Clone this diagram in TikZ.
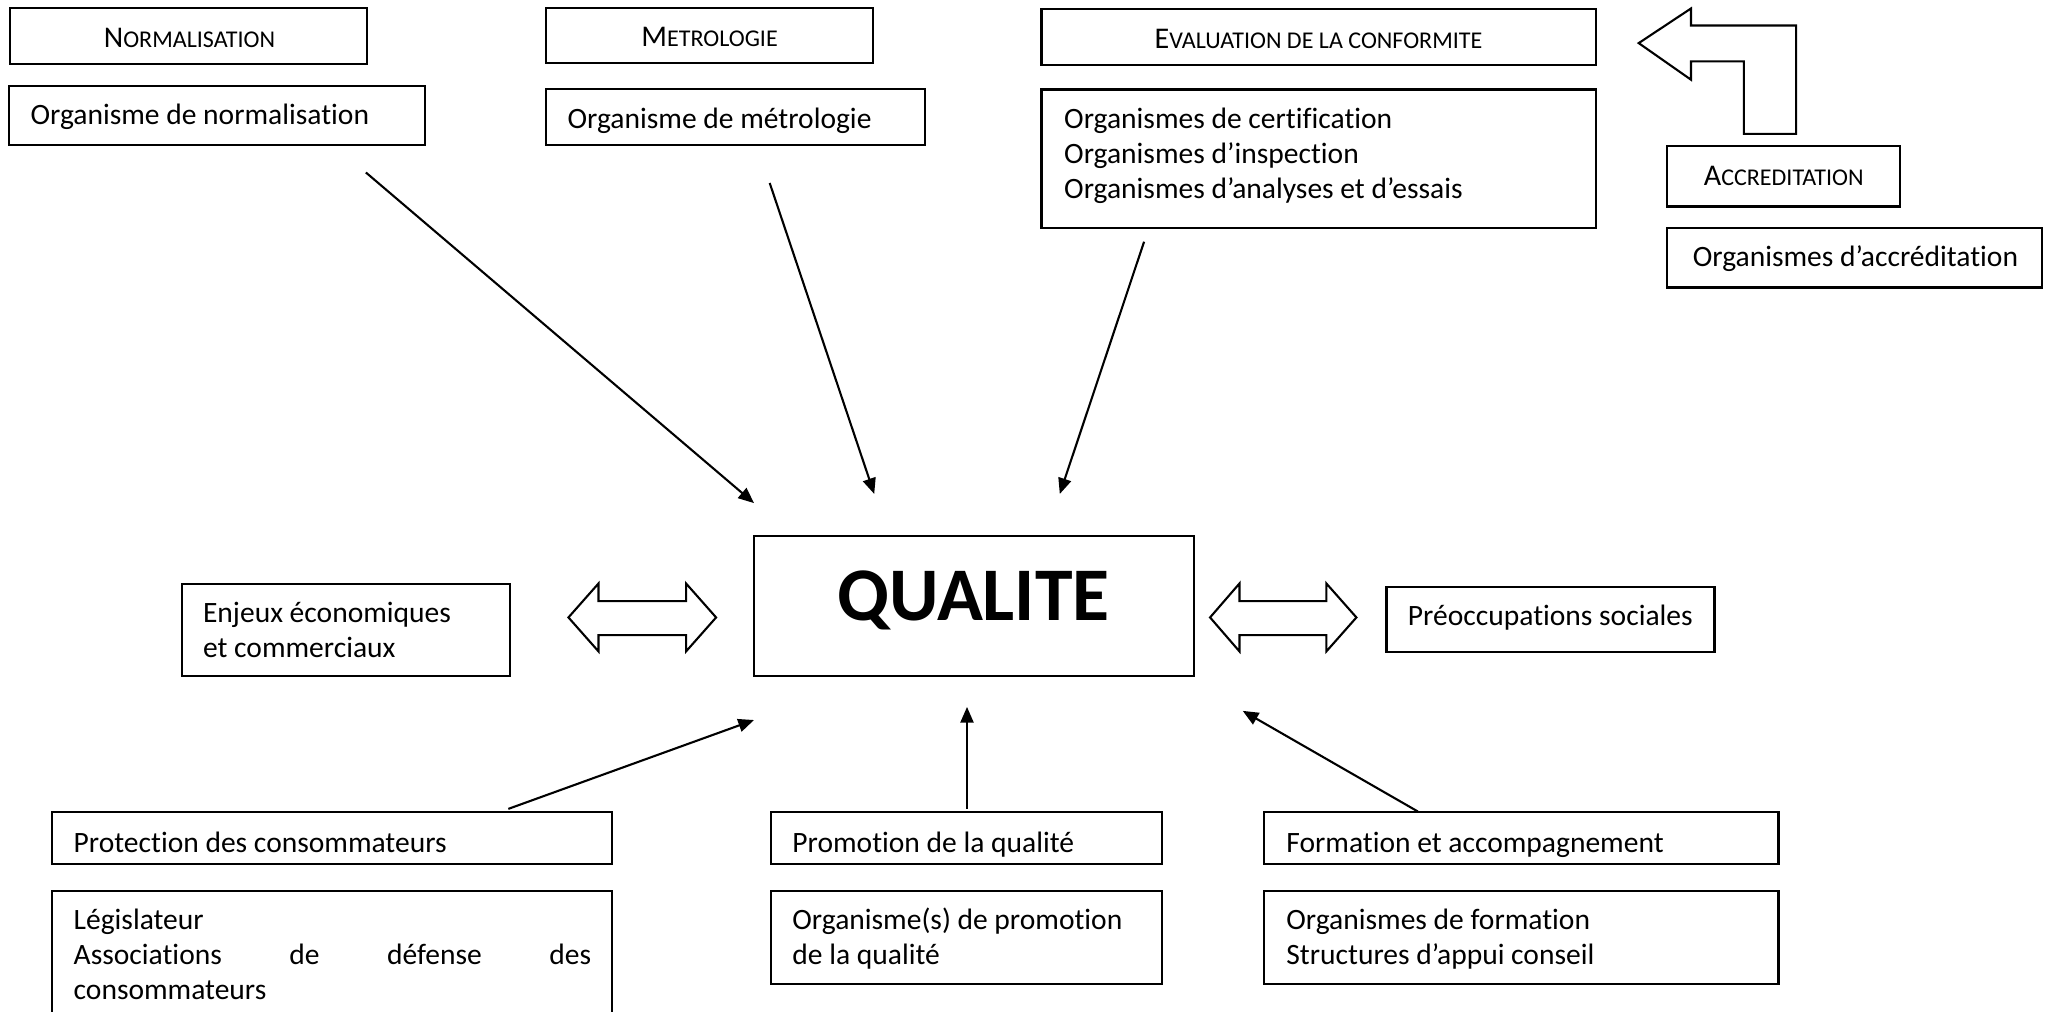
\documentclass[tikz,border=0pt]{standalone}
\usepackage{fontspec}
\setmainfont{Carlito}[Ligatures={NoCommon}]
\usetikzlibrary{fit,arrows.meta}
\newcommand\smcp[2]{#1{\fontsize{9.2}{10}\selectfont #2}}
\tikzset{
  box/.style={draw, line width=0.8pt, inner sep=0pt, fit={#1}},
  txt/.style={anchor=base west, inner sep=0pt, font=\fontsize{11.3}{13.5}\selectfont},
  head/.style={anchor=center, inner sep=0pt, font=\fontsize{11.5}{13.5}\selectfont},
  conn/.style={line width=0.8pt, -{Triangle[length=6pt,width=5pt]}},
  blk/.style={draw, line width=0.8pt, line join=miter, fill=white}
}
\begin{document}
\begin{tikzpicture}[x=0.5pt,y=-0.5pt]
\useasboundingbox (0,0) rectangle (1568,774);
\clip (0,0) rectangle (1568,774);
% top row
\node[box={(8,6) (281,49)}] (norm) {};
\node[head] (normt) at (145,29) {\smcp{N}{ORMALISATION}};
\node[box={(7,66) (325,111)}] (onorm) {};
\node[txt] (onormt) at (23,95) {Organisme de normalisation};

\node[box={(418,6) (668,48)}] (metro) {};
\node[head] (metrot) at (543,28) {\smcp{M}{ETROLOGIE}};
\node[box={(418,68) (708,111)}] (ometro) {};
\node[txt] (ometrot) at (434,98) {Organisme de métrologie};

\node[box={(797,7) (1221,49.5)}] (eval) {};
\node[head] (evalt) at (1009,30) {\smcp{E}{VALUATION DE LA CONFORMITE}};
\node[box={(797,68.5) (1221,174.5)}] (oeval) {};
\node[txt] (oeval1) at (814,98) {Organismes de certification};
\node[txt] (oeval2) at (814,125) {Organismes d’inspection};
\node[txt] (oeval3) at (814,152) {Organismes d’analyses et d’essais};

\node[box={(1275.5,112) (1454,158)}] (accr) {};
\node[head] (accrt) at (1365,135) {\smcp{A}{CCREDITATION}};
\node[box={(1275.5,174.5) (1562.5,220)}] (oaccr) {};
\node[txt] (oaccrt) at (1295,204) {Organismes d’accréditation};

% bent block arrow
\draw[blk] (1254,33) -- (1294,6.5) -- (1294,19.5) -- (1374.5,19.5) -- (1374.5,102.5)
  -- (1334.5,102.5) -- (1334.5,47) -- (1294,47) -- (1294,61) -- cycle;

% middle row
\node[box={(577,410) (914,517)}] (qual) {};
\node[anchor=base, inner sep=0pt, font=\bfseries\fontsize{29}{34}\selectfont] (qualt) at (745,475) {QUALITE};

\node[box={(139.5,447) (390,517)}] (enj) {};
\node[txt] (enj1) at (155,476) {Enjeux économiques};
\node[txt] (enj2) at (155,503) {et commerciaux};

\node[box={(1061,449) (1312,499)}] (preo) {};
\node[txt] (preot) at (1077,479) {Préoccupations sociales};

\draw[blk] (435,472.5) -- (458,446.5) -- (458,460) -- (525,460) -- (525,446.5) -- (548,472.5)
  -- (525,498.5) -- (525,486) -- (458,486) -- (458,498.5) -- cycle;
\draw[blk] (926,472.5) -- (948.5,446.5) -- (948.5,460) -- (1015,460) -- (1015,446.5) -- (1038,472.5)
  -- (1015,498.5) -- (1015,486) -- (948.5,486) -- (948.5,498.5) -- cycle;

% bottom row
\node[box={(40,621.5) (468,661)}] (prot) {};
\node[txt] (prott) at (56,652) {Protection des consommateurs};
\node[box={(40,681.5) (468,800)}] (leg) {};
\node[txt] (leg1) at (56,711) {Législateur};
\node[txt] (leg2) at (56,738) {\makebox[198pt][s]{Associations de défense des}};
\node[txt] (leg3) at (56,765) {consommateurs};

\node[box={(590,621.5) (889,661)}] (prom) {};
\node[txt] (promt) at (606,652) {Promotion de la qualité};
\node[box={(590,681.5) (889,753)}] (oprom) {};
\node[txt] (oprom1) at (606,711) {Organisme(s) de promotion};
\node[txt] (oprom2) at (606,738) {de la qualité};

\node[box={(967,621.5) (1361,661)}] (form) {};
\node[txt] (formt) at (984,652) {Formation et accompagnement};
\node[box={(967,681.5) (1361,753)}] (oform) {};
\node[txt] (oform1) at (984,711) {Organismes de formation};
\node[txt] (oform2) at (984,738) {Structures d’appui conseil};

% connectors
\coordinate (s1) at (280,132);  \coordinate (e1) at (577,385);
\coordinate (s2) at (589,140);  \coordinate (e2) at (669,378);
\coordinate (s3) at (875.5,185); \coordinate (e3) at (811,378);
\coordinate (s4) at (389,619);  \coordinate (e4) at (577,551);
\coordinate (s5) at (740,619);  \coordinate (e5) at (740,541);
\coordinate (s6) at (1085,621); \coordinate (e6) at (951,544);
\draw[conn] (s1) -- (e1);
\draw[conn] (s2) -- (e2);
\draw[conn] (s3) -- (e3);
\draw[conn] (s4) -- (e4);
\draw[conn] (s5) -- (e5);
\draw[conn] (s6) -- (e6);
\end{tikzpicture}
\end{document}
